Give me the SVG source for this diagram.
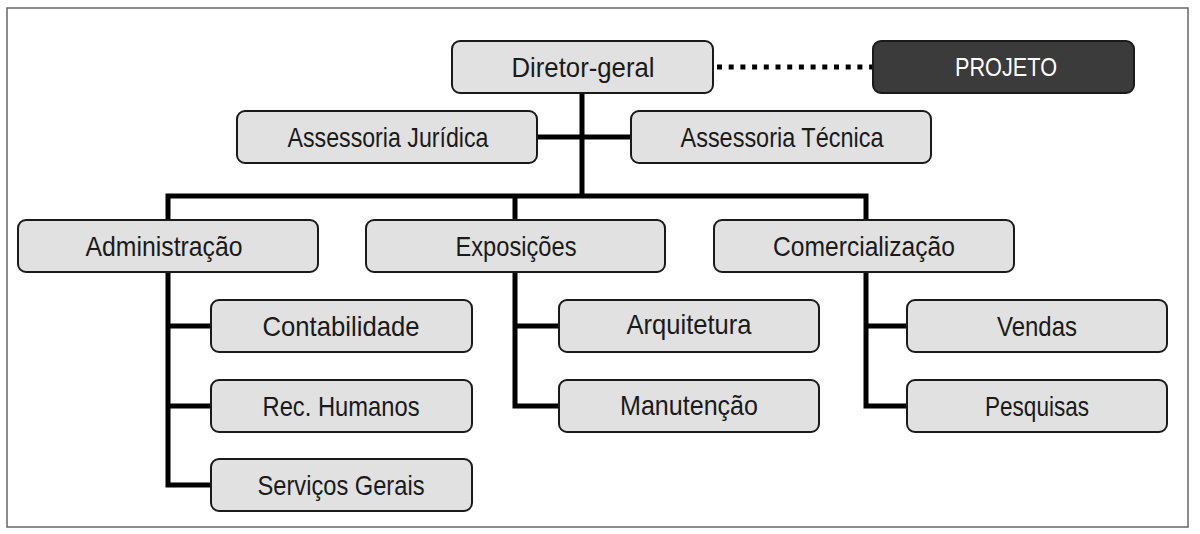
<svg xmlns="http://www.w3.org/2000/svg" width="1200" height="534" viewBox="0 0 1200 534">
<style>
.box{fill:#e1e1e1;stroke:#1a1a1a;stroke-width:2}
.dark{fill:#3b3b3b;stroke:#1a1a1a;stroke-width:2}
.t{font-family:"Liberation Sans",Arial,sans-serif;font-size:28px;fill:#1a1a1a;text-anchor:middle}
.tw{fill:#ffffff;font-size:26px}
.ln{fill:none;stroke:#000;stroke-width:5;stroke-linejoin:miter;stroke-linecap:square}
</style>
<rect x="0" y="0" width="1200" height="534" fill="#ffffff"/>
<rect x="7" y="8" width="1181" height="519" fill="none" stroke="#666" stroke-width="1.5"/>
<g id="connectors">
<path class="ln" d="M582 93 V196 M537 137 H631 M168 196 H866 M168 196 V219 M515 196 V219 M866 196 V219"/>
<path class="ln" d="M168 272 V485 H211 M168 326 H211 M168 406 H211"/>
<path class="ln" d="M515 272 V406 H559 M515 326 H559"/>
<path class="ln" d="M866 272 V406 H907 M866 326 H907"/>
<path d="M717 67 H872" fill="none" stroke="#000" stroke-width="5" stroke-dasharray="5 6.7"/>
</g>
<g id="diretor"><rect class="box" x="452" y="41" width="261" height="52" rx="8"/><text class="t" x="583" y="77" textLength="143" lengthAdjust="spacingAndGlyphs">Diretor-geral</text></g>
<g id="projeto"><rect class="dark" x="873" y="41" width="261" height="52" rx="8"/><text class="t tw" x="1006" y="76" textLength="102" lengthAdjust="spacingAndGlyphs">PROJETO</text></g>
<g id="juridica"><rect class="box" x="237" y="111" width="300" height="52" rx="8"/><text class="t" x="388" y="147" textLength="201" lengthAdjust="spacingAndGlyphs">Assessoria Jurídica</text></g>
<g id="tecnica"><rect class="box" x="631" y="111" width="300" height="52" rx="8"/><text class="t" x="782" y="147" textLength="203" lengthAdjust="spacingAndGlyphs">Assessoria Técnica</text></g>
<g id="administracao"><rect class="box" x="18" y="220" width="300" height="52" rx="8"/><text class="t" x="164" y="256" textLength="157" lengthAdjust="spacingAndGlyphs">Administração</text></g>
<g id="exposicoes"><rect class="box" x="366" y="220" width="299" height="52" rx="8"/><text class="t" x="516" y="256" textLength="121" lengthAdjust="spacingAndGlyphs">Exposições</text></g>
<g id="comercializacao"><rect class="box" x="714" y="220" width="300" height="52" rx="8"/><text class="t" x="864" y="256" textLength="182" lengthAdjust="spacingAndGlyphs">Comercialização</text></g>
<g id="contabilidade"><rect class="box" x="211" y="300" width="261" height="52" rx="8"/><text class="t" x="341" y="336" textLength="157" lengthAdjust="spacingAndGlyphs">Contabilidade</text></g>
<g id="rechumanos"><rect class="box" x="211" y="380" width="261" height="52" rx="8"/><text class="t" x="341" y="416" textLength="157" lengthAdjust="spacingAndGlyphs">Rec. Humanos</text></g>
<g id="servicos"><rect class="box" x="211" y="459" width="261" height="52" rx="8"/><text class="t" x="341" y="495" textLength="167" lengthAdjust="spacingAndGlyphs">Serviços Gerais</text></g>
<g id="arquitetura"><rect class="box" x="559" y="300" width="260" height="52" rx="8"/><text class="t" x="689" y="334" textLength="125" lengthAdjust="spacingAndGlyphs">Arquitetura</text></g>
<g id="manutencao"><rect class="box" x="559" y="380" width="260" height="52" rx="8"/><text class="t" x="689" y="415" textLength="138" lengthAdjust="spacingAndGlyphs">Manutenção</text></g>
<g id="vendas"><rect class="box" x="907" y="300" width="260" height="52" rx="8"/><text class="t" x="1037" y="336" textLength="80" lengthAdjust="spacingAndGlyphs">Vendas</text></g>
<g id="pesquisas"><rect class="box" x="907" y="380" width="260" height="52" rx="8"/><text class="t" x="1037" y="416" textLength="104" lengthAdjust="spacingAndGlyphs">Pesquisas</text></g>
</svg>
